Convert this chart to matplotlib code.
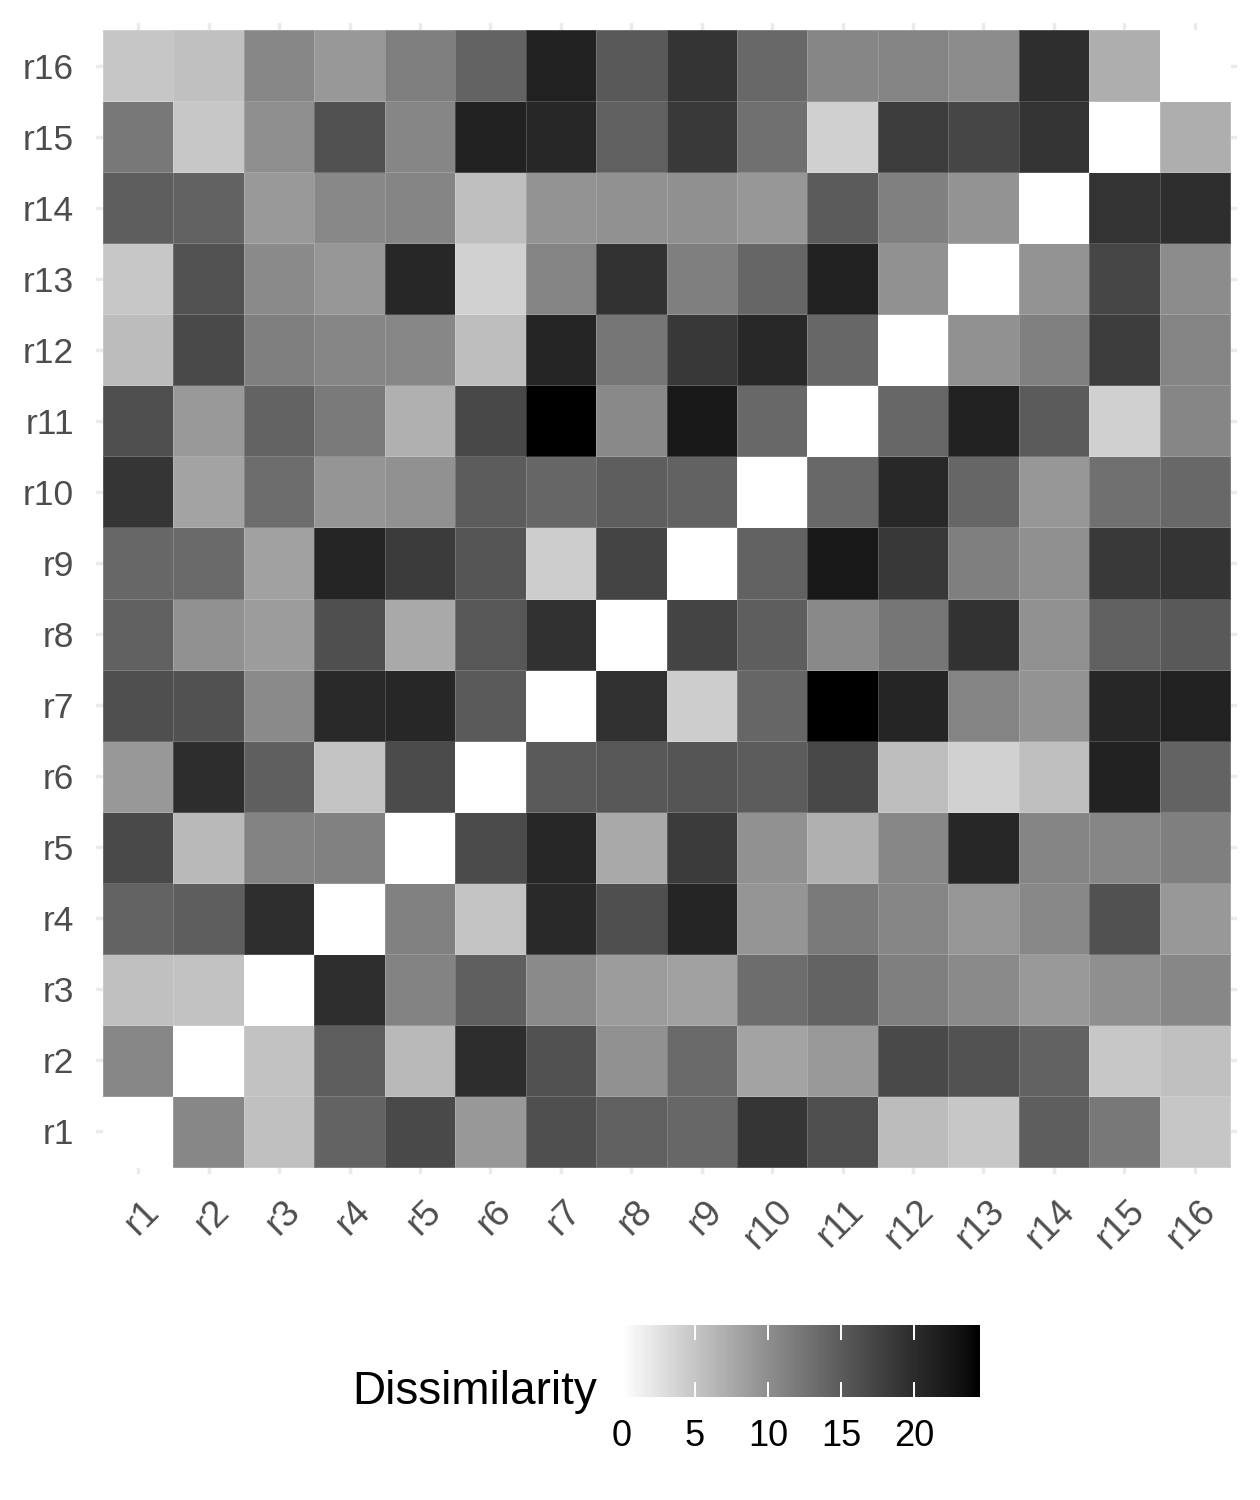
import numpy as np
import matplotlib
matplotlib.use("Agg")
import matplotlib.pyplot as plt
import matplotlib.transforms as mtransforms
from matplotlib.colors import ListedColormap

plt.rcParams["font.family"] = ["Liberation Sans", "DejaVu Sans"]

# --- Data ---
labels = [f"r{i}" for i in range(1, 17)]

# upper triangle of the dissimilarity matrix, row ri against r(i+1)..r16
upper = [
    [10.7, 5.5, 14.2, 16.9, 9.1, 16.2, 14.5, 13.8, 19.0, 16.3, 5.9, 4.8, 14.7, 12.1, 4.9],
    [5.3, 14.7, 6.1, 20.0, 16.0, 9.8, 13.5, 8.1, 9.0, 16.9, 15.9, 14.3, 4.8, 5.5],
    [19.9, 11.1, 14.6, 10.4, 8.8, 8.3, 13.3, 14.2, 11.4, 10.4, 9.0, 10.0, 10.7],
    [11.2, 5.2, 20.4, 16.2, 20.9, 9.4, 11.9, 10.8, 9.3, 10.6, 16.0, 9.1],
    [16.7, 20.6, 7.5, 18.4, 9.8, 6.9, 10.7, 20.6, 10.9, 10.8, 11.4],
    [15.1, 15.5, 15.6, 14.9, 17.0, 5.7, 4.0, 5.6, 21.2, 14.2],
    [19.5, 4.4, 13.9, 24.5, 20.9, 11.0, 9.6, 20.6, 21.3],
    [17.4, 14.7, 10.5, 12.3, 19.4, 9.8, 14.5, 15.3],
    [14.3, 22.4, 18.7, 11.4, 9.9, 18.6, 19.2],
    [13.7, 20.5, 13.9, 9.2, 13.0, 13.7],
    [13.8, 21.3, 15.0, 4.1, 10.8],
    [9.8, 11.3, 18.2, 11.0],
    [9.6, 17.2, 10.2],
    [19.3, 19.9],
    [7.1],
]
cbar_ticks = [0, 5, 10, 15, 20]

n = len(labels)
mat = np.zeros((n, n))
for i, row in enumerate(upper):
    for k, v in enumerate(row):
        mat[i, i + 1 + k] = v
        mat[i + 1 + k, i] = v
vmax = mat.max()

# white -> black ramp, linear in CIE L* (like ggplot's gradient)
L = np.linspace(100, 0, 256)
fy = (L + 16) / 116
Y = np.where(L > 8, fy ** 3, L / 903.3)
g = np.where(Y > 0.0031308, 1.055 * Y ** (1 / 2.4) - 0.055, 12.92 * Y)
cmap = ListedColormap(np.column_stack([g, g, g]))

# --- Plot ---
W, H = 1260, 1500
fig = plt.figure(figsize=(W / 100, H / 100), dpi=100)
ax = fig.add_axes([96 / W, 326 / H, 1141 / W, 1151 / H])

edges = np.arange(n + 1) - 0.5
ax.pcolormesh(edges, edges, mat, cmap=cmap, vmin=0, vmax=vmax,
              edgecolors=(1, 1, 1, 0.18), linewidth=0.6, zorder=2)
ax.set_xlim(-0.6, n - 0.4)
ax.set_ylim(-0.6, n - 0.4)
ax.set_xticks(range(n))
ax.set_yticks(range(n))
ax.grid(color="#EBEBEB", linewidth=2.5, zorder=0)
ax.set_axisbelow(True)
for s in ax.spines.values():
    s.set_visible(False)

ax.set_yticklabels(labels, fontsize=25.5, color="#4D4D4D")
ax.set_xticklabels(labels, fontsize=26.5, color="#4D4D4D", rotation=45,
                   ha="right", va="top", rotation_mode="anchor")
ax.tick_params(axis="y", length=0, pad=16)
ax.tick_params(axis="x", length=0, pad=14)
shift = mtransforms.ScaledTranslation(0.03, 0, fig.dpi_scale_trans)
for lab in ax.get_xticklabels():
    lab.set_transform(lab.get_transform() + shift)

# --- Colour bar legend ---
cax = fig.add_axes([622 / W, (H - 1397) / H, 358 / W, 72 / H])
grad = np.linspace(0, vmax, 300)
cax.imshow(grad[np.newaxis, :], cmap=cmap, vmin=0, vmax=vmax, aspect="auto",
           extent=[0, vmax, 0, 1])
cax.set_xlim(0, vmax)
cax.set_ylim(0, 1)
for t in cbar_ticks[1:]:
    cax.plot([t, t], [0, 0.2], color="white", lw=1.4)
    cax.plot([t, t], [0.8, 1], color="white", lw=1.4)
cax.set_xticks(cbar_ticks)
cax.set_xticklabels([str(t) for t in cbar_ticks], fontsize=26, color="black")
cax.set_yticks([])
cax.tick_params(axis="x", length=0, pad=16)
for s in cax.spines.values():
    s.set_visible(False)

fig.text(597 / W, (H - 1392) / H, "Dissimilarity", fontsize=33,
         ha="right", va="center", color="black")

fig.savefig("out.png", dpi=100)
